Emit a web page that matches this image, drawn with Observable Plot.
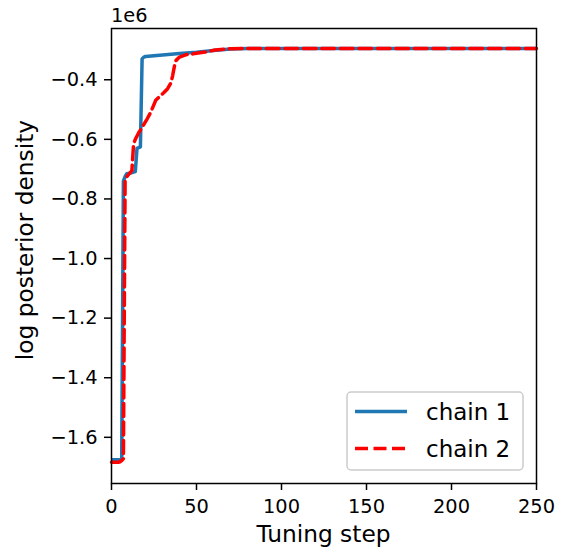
<!DOCTYPE html>
<html>
<head>
<meta charset="utf-8">
<script src="https://cdn.jsdelivr.net/npm/d3@7"></script>
<script src="https://cdn.jsdelivr.net/npm/@observablehq/plot@0.6"></script>
<style>
  html, body { margin: 0; padding: 0; background: #fff; }
  #chart svg { display: block; }
</style>
</head>
<body>
<div id="chart"></div>
<script>
// Chain 1 (tuning step, log posterior density)
const chain1Steps  = [0, 6, 7, 8, 9, 12, 14, 15, 17, 18, 19, 20, 30, 40, 50, 60, 70, 80, 100, 250];
const chain1Values = [-1675000, -1675000, -740000, -725000, -715000, -712000, -708000, -630000, -625000,
                      -330000, -324000, -322000, -317000, -312000, -308000, -302000, -297000, -295500, -295000, -295000];
// Chain 2
const chain2Steps  = [0, 4, 5, 6, 7, 8, 9, 11, 12, 13, 14, 16, 18, 21, 23, 26, 28, 31, 33, 35, 36, 37, 38, 40, 44, 48, 55, 61, 70, 80, 250];
const chain2Values = [-1684000, -1684000, -1682000, -1678000, -1672000, -740000, -725000, -712000, -705000,
                      -615000, -600000, -578000, -560000, -531000, -510000, -469000, -458000, -442000, -430000,
                      -410000, -385000, -355000, -335000, -324000, -316000, -313000, -307000, -300000, -296000, -295000, -295000];

const xTicks = [0, 50, 100, 150, 200, 250];
const yTicks = [-1600000, -1400000, -1200000, -1000000, -800000, -600000, -400000];
const seriesNames = ["chain 1", "chain 2"];
const seriesColors = ["#1f77b4", "#ff0000"];
const seriesDash = [null, "13,5.5"];
const xLabel = "Tuning step";
const yLabel = "log posterior density";
const offsetText = "1e6";

const chain1 = chain1Steps.map((s, i) => ({step: s, value: chain1Values[i]}));
const chain2 = chain2Steps.map((s, i) => ({step: s, value: chain2Values[i]}));

const W = 569, H = 551;
const mL = 111, mR = 33, mT = 28, mB = 68;
const font = "'DejaVu Sans', sans-serif";

const plot = Plot.plot({
  width: W, height: H,
  marginLeft: mL, marginRight: mR, marginTop: mT, marginBottom: mB,
  style: {fontFamily: font, fontSize: "19.4px", color: "black", background: "white", overflow: "visible"},
  x: {domain: [0, 250]},
  y: {domain: [-1755000, -228000]},
  marks: [
    Plot.line(chain1, {x: "step", y: "value", stroke: seriesColors[0], strokeWidth: 3.5, strokeLinejoin: "round", strokeLinecap: "butt"}),
    Plot.line(chain2, {x: "step", y: "value", stroke: seriesColors[1], strokeWidth: 3.5, strokeDasharray: seriesDash[1], strokeLinejoin: "round"}),
    Plot.frame({stroke: "black", strokeWidth: 1.5}),
    Plot.axisX({ticks: xTicks, tickSize: 7, tickPadding: 9, tickFormat: d => String(d), label: null, strokeWidth: 1.5}),
    Plot.axisY({ticks: yTicks, tickSize: 7, tickPadding: 7, tickFormat: d => (d / 1e6).toFixed(1).replace("-", "\u2212"), label: null, strokeWidth: 1.5})
  ]
});

document.getElementById("chart").appendChild(plot);
const svg = d3.select(plot);

// offset text
svg.append("text").attr("x", 111).attr("y", 22).attr("text-anchor", "start")
  .attr("font-family", font).attr("font-size", "19.4px").attr("fill", "black")
  .text(offsetText);

// axis labels
svg.append("text").attr("x", (mL + W - mR) / 2).attr("y", 542)
  .attr("text-anchor", "middle").attr("font-family", font).attr("font-size", "23.3px").attr("fill", "black")
  .text(xLabel);
svg.append("text").attr("transform", "translate(33,240) rotate(-90)")
  .attr("text-anchor", "middle").attr("font-family", font).attr("font-size", "23.3px").attr("fill", "black")
  .text(yLabel);

// legend
const lg = svg.append("g").attr("text-anchor", "start");
lg.append("rect").attr("x", 347).attr("y", 392).attr("width", 176).attr("height", 78)
  .attr("rx", 4).attr("fill", "white").attr("fill-opacity", 0.8)
  .attr("stroke", "#cccccc").attr("stroke-width", 1.5);
seriesNames.forEach((name, i) => {
  const yy = 411.5 + i * 37;
  lg.append("line").attr("x1", 355).attr("x2", 407).attr("y1", yy).attr("y2", yy)
    .attr("stroke", seriesColors[i]).attr("stroke-width", 3.5)
    .attr("stroke-dasharray", seriesDash[i]);
  lg.append("text").attr("x", 426).attr("y", yy + 8.5).attr("text-anchor", "start")
    .attr("font-family", font).attr("font-size", "23px").attr("fill", "black")
    .text(name);
});
</script>
</body>
</html>
